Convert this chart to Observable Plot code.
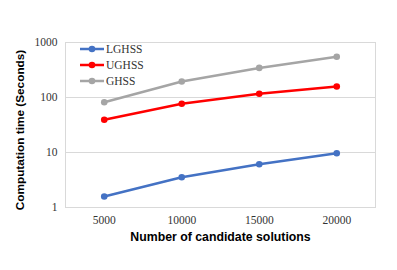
<!DOCTYPE html>
<html><head><meta charset="utf-8">
<script src="https://cdn.jsdelivr.net/npm/d3@7"></script>
<script src="https://cdn.jsdelivr.net/npm/@observablehq/plot@0.6"></script>
<style>
html,body{margin:0;padding:0;background:#fff;}
#wrap{position:relative;width:397px;height:270px;}
#legend{position:absolute;left:80px;top:41px;font-family:'Liberation Serif','Times New Roman',serif;font-size:11.5px;color:#333;}
#legend .row{display:flex;align-items:center;height:16px;}
#legend svg{margin-right:2px;}
#chart svg text{font-family:'Liberation Serif','Times New Roman',serif;}
#chart svg text.sans{font-family:'Liberation Sans',Arial,sans-serif;}
</style>
</head><body>
<div id="wrap"><div id="chart"></div><div id="legend"></div></div>
<script>
const candidates = [5000, 10000, 15000, 20000];
const seriesNames = ["LGHSS", "UGHSS", "GHSS"];
const seriesColors = ["#4472C4", "#FF0000", "#A5A5A5"];
const lghss = [1.58, 3.55, 6.1, 9.7];
const ughss = [39.3, 76.8, 117, 158];
const ghss = [82, 195, 345, 550];
const yTicks = [1, 10, 100, 1000];

const values = [lghss, ughss, ghss];
const data = [];
seriesNames.forEach((s, i) => candidates.forEach((c, j) => data.push({series: s, x: c, y: values[i][j]})));

const serif = "'Liberation Serif', 'Times New Roman', serif";
const sans = "'Liberation Sans', Arial, sans-serif";

const chart = Plot.plot({
  width: 397, height: 270,
  marginLeft: 65, marginRight: 22, marginTop: 42, marginBottom: 63,
  style: {fontFamily: serif, fontSize: "11.5px", color: "#333", background: "#fff"},
  x: {domain: [2500, 22500], label: null},
  y: {type: "log", domain: [1, 1000], label: null},
  color: {domain: seriesNames, range: seriesColors},
  marks: [
    Plot.gridY(yTicks, {stroke: "#D9D9D9", strokeOpacity: 1, strokeWidth: 1}),
    Plot.frame({stroke: "#D9D9D9"}),
    Plot.axisX(candidates, {tickFormat: d => String(d), tickSize: 0, tickPadding: 8, fontFamily: serif, fontSize: 11.5, label: null}),
    Plot.axisY(yTicks, {tickFormat: d => String(d), tickSize: 0, tickPadding: 8, fontFamily: serif, fontSize: 11.5, label: null}),
    Plot.line(data, {x: "x", y: "y", stroke: "series", strokeWidth: 2.5}),
    Plot.dot(data, {x: "x", y: "y", fill: "series", r: 3.3}),
    Plot.text(["Computation time (Seconds)"], {frameAnchor: "left", textAnchor: "middle", rotate: -90, dx: -45, dy: 5, fontFamily: sans, fontWeight: "bold", fontSize: 11.8, fill: "#000", className: "sans"}),
    Plot.text(["Number of candidate solutions"], {frameAnchor: "bottom", dy: 33, fontFamily: sans, fontWeight: "bold", fontSize: 12.3, fill: "#000", className: "sans"})
  ]
});
document.getElementById("chart").appendChild(chart);
chart.querySelectorAll("g[aria-label='text'] text").forEach(t => t.classList.add("sans"));

const legend = document.getElementById("legend");
seriesNames.forEach((s, i) => {
  const row = document.createElement("div");
  row.className = "row";
  row.innerHTML = `<svg width="24" height="10"><line x1="0" y1="5" x2="24" y2="5" stroke="${seriesColors[i]}" stroke-width="2.5"/><circle cx="12" cy="5" r="3.3" fill="${seriesColors[i]}"/></svg><span>${s}</span>`;
  legend.appendChild(row);
});
</script>
</body></html>
